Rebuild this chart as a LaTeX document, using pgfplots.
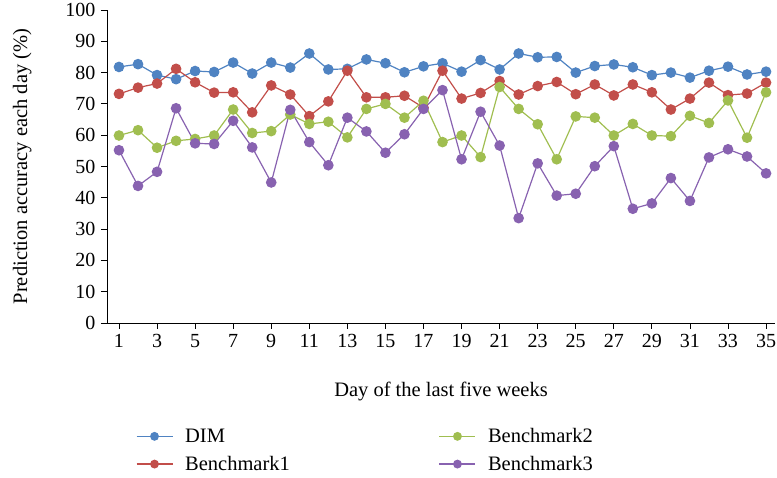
\documentclass[border=0pt]{standalone}
\usepackage{fontspec}
\setmainfont{Liberation Serif}
\usepackage{pgfplots}
\pgfplotsset{compat=1.18}

\definecolor{cDIM}{RGB}{79,131,194}
\definecolor{cBa}{RGB}{194,78,74}
\definecolor{cBb}{RGB}{160,190,80}
\definecolor{cBc}{RGB}{136,98,176}

\begin{document}
\begin{tikzpicture}
\useasboundingbox (-107pt,-155pt) rectangle (670pt,323pt);
\begin{axis}[
    at={(0pt,0pt)}, anchor=south west,
    scale only axis,
    width=668pt, height=313pt,
    xmin=0.37, xmax=35.47,
    ymin=0, ymax=100,
    axis lines=left,
    axis line style={-, black, line width=0.8pt},
    xtick={1,3,...,35},
    ytick={0,10,...,100},
    tick align=outside,
    major tick length=6pt,
    tick style={black, line width=0.8pt},
    font=\fontsize{20.5}{24}\selectfont,
    /pgf/number format/assume math mode=true,
    ticklabel style={font=\fontsize{20}{24}\selectfont},
    yticklabel style={xshift=-2pt},
    xticklabel style={yshift=-2pt},
    xlabel={Day of the last five weeks},
    ylabel={Prediction accuracy each day (\%)},
    xlabel style={at={(axis description cs:0.5,-0.22)}, anchor=center},
    ylabel style={at={(axis description cs:-0.127,0.5)}, anchor=center},
    clip=false,
    every axis plot/.append style={line width=1.2pt, mark=*, mark size=4.7pt},
    legend columns=2,
    transpose legend,
    legend style={
        at={(axis description cs:0.043,-0.33)}, anchor=north west,
        draw=none, fill=none, inner sep=0pt,
        font=\fontsize{20.5}{24}\selectfont,
        row sep=8pt,
        /tikz/every odd column/.append style={column sep=10pt},
        /tikz/every even column/.append style={column sep=147pt},
        cells={anchor=west},
    },
    legend image code/.code={
        \draw[line width=1.2pt, mark repeat=2, mark phase=2, mark size=3.8pt]
            plot coordinates {(0pt,0pt) (18pt,0pt) (36pt,0pt)};
    },
]
\addplot[color=cDIM] coordinates {
(1,81.8) (2,82.7) (3,79.2) (4,77.9) (5,80.5) (6,80.2) (7,83.2) (8,79.7) (9,83.2) (10,81.6)
(11,86.1) (12,81.0) (13,81.2) (14,84.2) (15,83.0) (16,80.1) (17,82.0) (18,83.0) (19,80.3) (20,84.0)
(21,81.0) (22,86.1) (23,84.9) (24,85.0) (25,80.0) (26,82.1) (27,82.6) (28,81.7) (29,79.2) (30,80.0)
(31,78.4) (32,80.6) (33,81.9) (34,79.4) (35,80.3)
};
\addlegendentry{DIM}
\addplot[color=cBa] coordinates {
(1,73.2) (2,75.2) (3,76.5) (4,81.2) (5,76.9) (6,73.6) (7,73.7) (8,67.3) (9,75.9) (10,73.0)
(11,66.1) (12,70.8) (13,80.6) (14,72.1) (15,72.1) (16,72.6) (17,68.8) (18,80.6) (19,71.7) (20,73.5)
(21,77.3) (22,73.0) (23,75.7) (24,77.0) (25,73.1) (26,76.2) (27,72.7) (28,76.2) (29,73.7) (30,68.2)
(31,71.7) (32,76.8) (33,72.8) (34,73.3) (35,76.8)
};
\addlegendentry{Benchmark1}
\addplot[color=cBb] coordinates {
(1,59.9) (2,61.6) (3,56.0) (4,58.2) (5,58.8) (6,59.9) (7,68.2) (8,60.7) (9,61.3) (10,66.6)
(11,63.6) (12,64.3) (13,59.3) (14,68.4) (15,70.0) (16,65.6) (17,71.0) (18,57.8) (19,59.9) (20,53.0)
(21,75.4) (22,68.4) (23,63.5) (24,52.3) (25,66.0) (26,65.6) (27,59.9) (28,63.6) (29,59.9) (30,59.7)
(31,66.2) (32,63.9) (33,71.1) (34,59.2) (35,73.7)
};
\addlegendentry{Benchmark2}
\addplot[color=cBc] coordinates {
(1,55.2) (2,43.8) (3,48.3) (4,68.6) (5,57.4) (6,57.2) (7,64.6) (8,56.1) (9,44.9) (10,68.1)
(11,57.8) (12,50.4) (13,65.6) (14,61.2) (15,54.4) (16,60.3) (17,68.4) (18,74.4) (19,52.3) (20,67.5)
(21,56.7) (22,33.5) (23,51.0) (24,40.7) (25,41.3) (26,50.1) (27,56.5) (28,36.5) (29,38.2) (30,46.3)
(31,39.0) (32,52.9) (33,55.5) (34,53.2) (35,47.8)
};
\addlegendentry{Benchmark3}
\end{axis}
\end{tikzpicture}
\end{document}
